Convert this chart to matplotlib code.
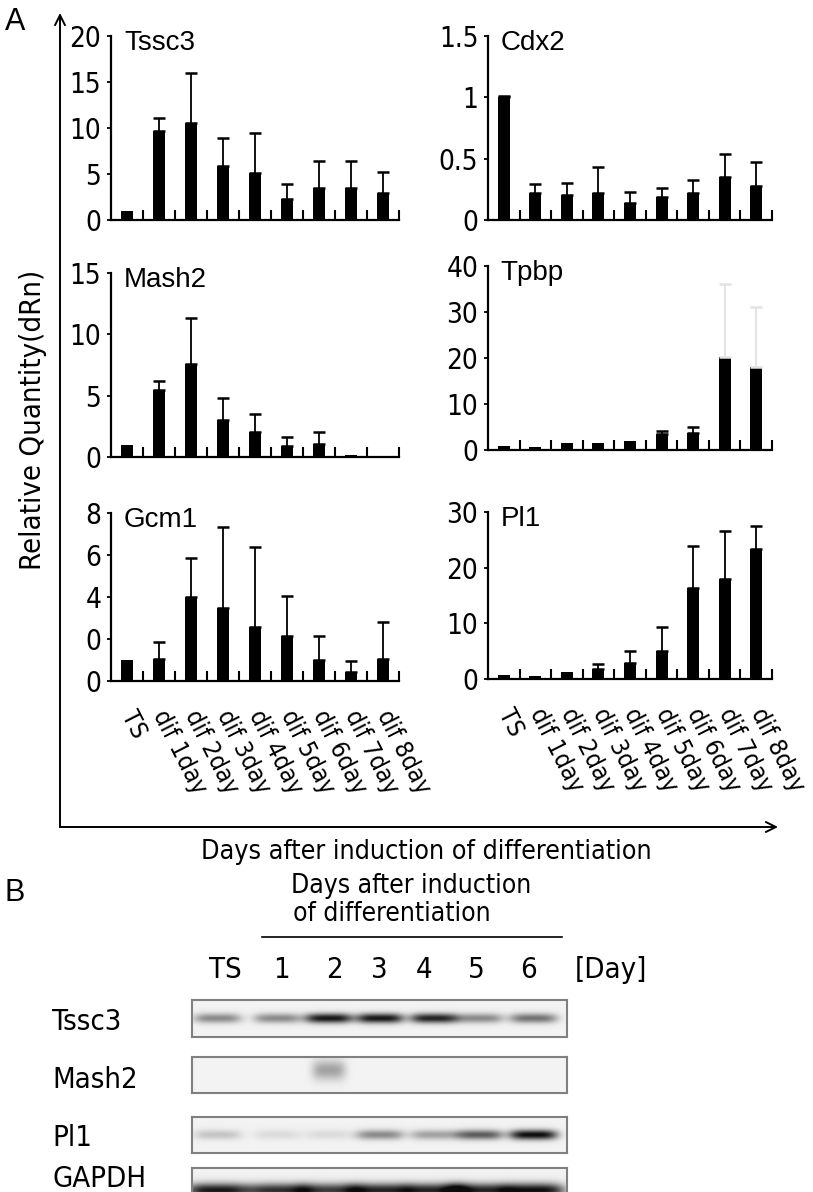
import numpy as np
import matplotlib
matplotlib.use("Agg")
import matplotlib.pyplot as plt
from matplotlib.transforms import ScaledTranslation
from matplotlib import font_manager
from matplotlib.font_manager import FontProperties

W, H = 813, 1192

plt.rcParams["font.family"] = ["Liberation Sans", "DejaVu Sans"]

# look for a narrow / condensed face for the tall, tight labels
narrow_file = None
for key in ("LiberationSansNarrow-Regular", "DejaVuSansCondensed.ttf"):
    for f in font_manager.fontManager.ttflist:
        if key in f.fname:
            narrow_file = f.fname
            break
    if narrow_file:
        break


def nfont(size):
    if narrow_file:
        return FontProperties(fname=narrow_file, size=size)
    return FontProperties(family="Liberation Sans", size=size * 0.85)


# ---- panel A data (relative quantity, mean and upper error) ----
categories = ["TS", "dif 1day", "dif 2day", "dif 3day", "dif 4day",
              "dif 5day", "dif 6day", "dif 7day", "dif 8day"]

tssc3_mean = [1.0, 9.7, 10.5, 5.9, 5.1, 2.3, 3.5, 3.5, 2.9]
tssc3_err = [0.0, 1.4, 5.5, 3.0, 4.4, 1.6, 2.9, 2.9, 2.3]

cdx2_mean = [1.0, 0.22, 0.20, 0.22, 0.14, 0.19, 0.22, 0.35, 0.28]
cdx2_err = [0.01, 0.07, 0.10, 0.21, 0.09, 0.07, 0.11, 0.19, 0.19]

mash2_mean = [1.0, 5.5, 7.6, 3.0, 2.0, 0.9, 1.1, 0.15, 0.0]
mash2_err = [0.0, 0.7, 3.7, 1.8, 1.5, 0.75, 0.9, 0.0, 0.0]

tpbp_mean = [0.9, 0.7, 1.6, 1.6, 2.0, 3.4, 3.8, 20.3, 18.0]
tpbp_err = [0.0, 0.0, 0.0, 0.0, 0.0, 0.8, 1.1, 15.7, 13.0]

gcm1_mean = [1.0, 1.07, 4.0, 3.46, 2.58, 2.14, 1.0, 0.45, 1.07]
gcm1_err = [0.0, 0.78, 1.85, 3.87, 3.78, 1.91, 1.12, 0.51, 1.75]
gcm1_ticklabels = ["0", "0", "4", "6", "8"]

pl1_mean = [0.8, 0.6, 1.25, 1.8, 2.8, 5.1, 16.4, 18.0, 23.3]
pl1_err = [0.0, 0.0, 0.0, 0.9, 2.2, 4.3, 7.5, 8.5, 4.2]

# ---- panel B data (band darkness per lane) ----
lanes = ["TS", "1", "2", "3", "4", "5", "6"]
blot_rows = ["Tssc3", "Mash2", "Pl1", "GAPDH"]
tssc3_band = [0.45, 0.45, 0.95, 0.95, 0.9, 0.45, 0.55]
mash2_band = [0.0, 0.0, 0.35, 0.0, 0.0, 0.0, 0.0]
pl1_band = [0.2, 0.1, 0.1, 0.45, 0.35, 0.65, 1.0]
gapdh_band = [0.95, 0.85, 0.8, 0.9, 0.9, 0.9, 1.0]

fig = plt.figure(figsize=(W / 100, H / 100), dpi=100)


def px_axes(left, top, right, bottom, **kw):
    return fig.add_axes([left / W, 1 - bottom / H, (right - left) / W, (bottom - top) / H], **kw)


# background layer in pixel coordinates for arrows and free text
bg = px_axes(0, 0, W, H, zorder=-1)
bg.set_xlim(0, W)
bg.set_ylim(H, 0)
bg.axis("off")


def bar_panel(rect, title, mean, err, ymax, yticks, yticklabels=None, show_x=False, err_light=()):
    ax = px_axes(*rect)
    x = np.arange(len(mean)) + 0.5
    ax.bar(x, mean, width=0.38, color="black", zorder=2)
    for i in range(len(mean)):
        if err[i] <= 0:
            continue
        c = "#e2e2e2" if i in err_light else "black"
        ax.errorbar(x[i], mean[i], yerr=[[0], [err[i]]], fmt="none", ecolor=c,
                    elinewidth=1.3, capsize=4, capthick=1.8, zorder=3)
    ax.set_xlim(0, len(mean))
    ax.set_ylim(0, ymax)
    ax.set_yticks(yticks)
    if yticklabels is None:
        yticklabels = [("%g" % t) for t in yticks]
    ax.set_yticklabels(yticklabels, fontproperties=nfont(20))
    ax.tick_params(axis="y", direction="out", length=3, width=1.3, pad=4)
    ax.set_xticks(np.arange(1, len(mean) + 1), minor=True)
    ax.tick_params(axis="x", which="minor", direction="in", length=7, width=1.5)
    ax.set_xticks(x)
    if show_x:
        ax.set_xticklabels(categories, rotation=-63, ha="left", va="center",
                           rotation_mode="anchor", fontproperties=nfont(18))
        off = ScaledTranslation(-0.22, 0, fig.dpi_scale_trans)
        for lab in ax.get_xticklabels():
            lab.set_transform(lab.get_transform() + off)
        ax.tick_params(axis="x", which="major", length=0, pad=22)
    else:
        ax.set_xticklabels([])
        ax.tick_params(axis="x", which="major", length=0)
    for s in ("top", "right"):
        ax.spines[s].set_visible(False)
    for s in ("left", "bottom"):
        ax.spines[s].set_linewidth(1.6)
    ax.text(0.045, 1.035, title, transform=ax.transAxes, ha="left", va="top", fontsize=20)
    return ax


bar_panel((111, 36, 399, 220), "Tssc3", tssc3_mean, tssc3_err, 20, [0, 5, 10, 15, 20])
bar_panel((488, 36, 772, 220), "Cdx2", cdx2_mean, cdx2_err, 1.5, [0, 0.5, 1, 1.5])
bar_panel((111, 273, 399, 457), "Mash2", mash2_mean, mash2_err, 15, [0, 5, 10, 15])
bar_panel((488, 266, 772, 450), "Tpbp", tpbp_mean, tpbp_err, 40, [0, 10, 20, 30, 40],
          err_light=(7, 8))
bar_panel((111, 513, 399, 681), "Gcm1", gcm1_mean, gcm1_err, 8, [0, 2, 4, 6, 8],
          yticklabels=gcm1_ticklabels, show_x=True)
bar_panel((488, 512, 772, 679), "Pl1", pl1_mean, pl1_err, 30, [0, 10, 20, 30], show_x=True)

# outer arrows and labels of panel A
arrow = dict(arrowstyle="->", lw=1.4, color="black", mutation_scale=18, shrinkA=0, shrinkB=0)
bg.annotate("", xy=(60, 13), xytext=(60, 827), arrowprops=arrow)
bg.annotate("", xy=(778, 827), xytext=(60, 827), arrowprops=arrow)
bg.text(15, 22, "A", fontsize=22, ha="center", va="center")
bg.text(33, 420, "Relative Quantity(dRn)", rotation=90, ha="center", va="center",
        fontproperties=nfont(21))
bg.text(426, 852, "Days after induction of differentiation", ha="center", va="center",
        fontproperties=nfont(19.3))

# ---- panel B ----
bg.text(15, 893, "B", fontsize=22, ha="center", va="center")
bg.text(291, 886, "Days after induction", ha="left", va="center", fontproperties=nfont(19))
bg.text(293, 914, "of differentiation", ha="left", va="center", fontproperties=nfont(19))
bg.plot([262, 562], [937, 937], color="black", lw=1.2)

lane_x = [217, 277, 328, 379, 433, 478, 532]
label_x = [225, 281, 334, 378, 424, 476, 528]
for lx, name in zip(label_x, lanes):
    bg.text(lx, 970, name, ha="center", va="center", fontproperties=nfont(21))
bg.text(575, 970, "[Day]", ha="left", va="center", fontproperties=nfont(21))

box_left, box_right = 192, 567
row_boxes = [(1000, 1037), (1057, 1093), (1117, 1153), (1168, 1210)]
row_label_y = [1022, 1080, 1138, 1179]
bands = [tssc3_band, mash2_band, pl1_band, gapdh_band]
band_shape = [(20, 3.5, 0.48), (14, 7, 0.35), (20, 3.5, 0.48), (26, 5, 0.52)]

for name, (top, bottom), ly, band, (sx, sy, cy) in zip(blot_rows, row_boxes, row_label_y,
                                                       bands, band_shape):
    w = box_right - box_left
    h = bottom - top
    xx, yy = np.meshgrid(np.arange(w), np.arange(h))
    dark = np.zeros((h, w))
    for lx, b in zip(lane_x, band):
        dark += b * np.exp(-((xx - (lx - box_left)) / sx) ** 4 / 2 - ((yy - cy * h) / sy) ** 2 / 2)
    img = 0.95 - 0.9 * np.clip(dark, 0, 1)
    ax = px_axes(box_left, top, box_right, bottom)
    ax.imshow(img, cmap="gray", vmin=0, vmax=1, aspect="auto", interpolation="bilinear")
    ax.set_xticks([])
    ax.set_yticks([])
    for s in ax.spines.values():
        s.set_edgecolor("#808080")
        s.set_linewidth(1.5)
    bg.text(52, ly, name, ha="left", va="center", fontproperties=nfont(21))

fig.savefig("out.png", dpi=100)
